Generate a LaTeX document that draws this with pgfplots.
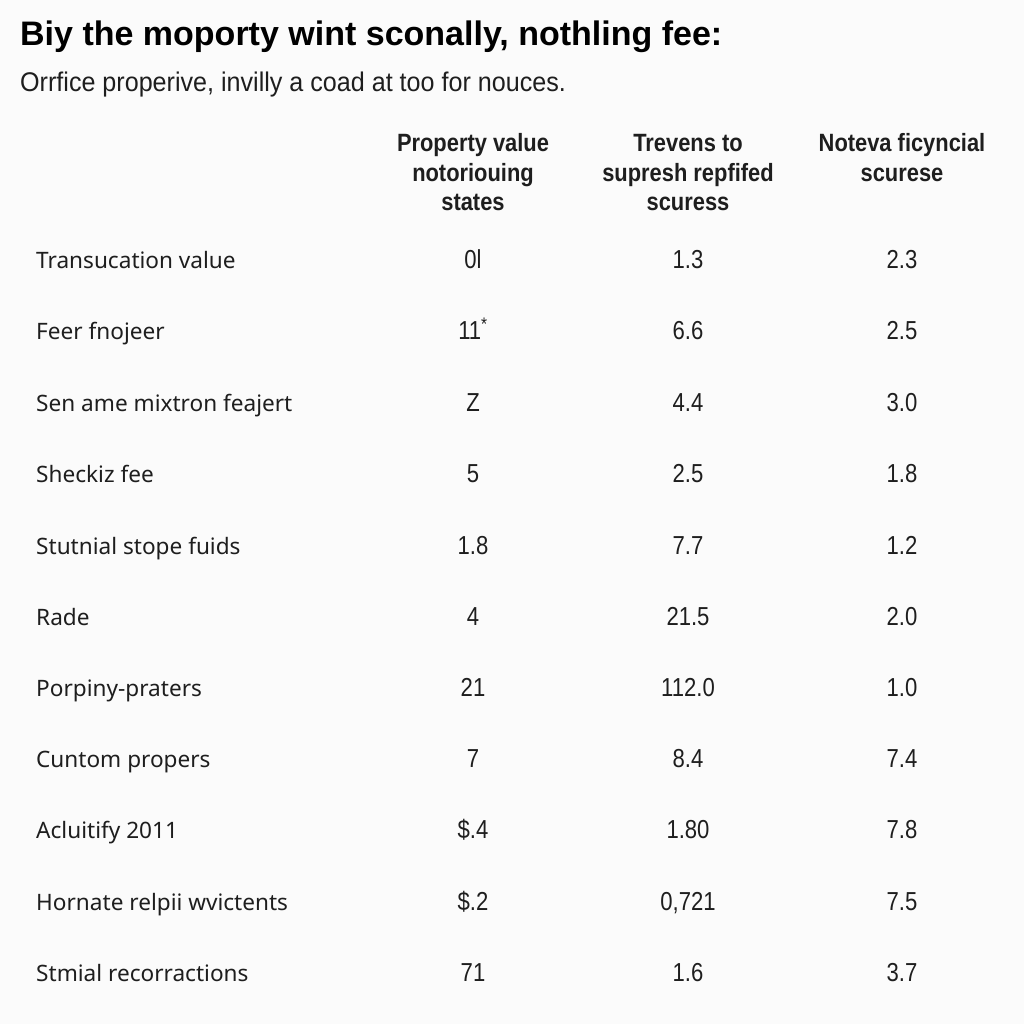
\documentclass[border=0pt]{standalone}
\usepackage{pgfplots}
\pgfplotsset{compat=1.18}
\usepackage{pgfplotstable}
\usepackage{fontspec}
\setmainfont{Liberation Sans}
\newfontfamily\labelfont{Noto Sans}
\newfontfamily\numfont[FakeStretch=0.85]{Liberation Sans}
\newfontfamily\headfont[FakeStretch=0.875]{Liberation Sans}
\newfontfamily\subfont[FakeStretch=0.93]{Liberation Sans}

\definecolor{txt}{HTML}{1E1E1E}
\definecolor{bg}{HTML}{FBFBFB}

\pgfplotstableread[col sep=semicolon]{
y;label;a;b;c
259;Transucation value;0l;1.3;2.3
330;Feer fnojeer;11\textsuperscript{*};6.6;2.5
402;Sen ame mixtron feajert;Z;4.4;3.0
473;Sheckiz fee;5;2.5;1.8
545;Stutnial stope fuids;1.8;7.7;1.2
616;Rade;4;21.5;2.0
687;Porpiny-praters;21;112.0;1.0
758;Cuntom propers;7;8.4;7.4
829;Acluitify 2011;\$.4;1.80;7.8
901;Hornate relpii wvictents;\$.2;0,721;7.5
972;Stmial recorractions;71;1.6;3.7
}\rows

\pgfplotstableread[col sep=semicolon]{
y;a;b;c
142;Property value;Trevens to;Noteva ficyncial
172;notoriouing;supresh repfifed;scurese
201;states;scuress;{}
}\header

\begin{document}
\begin{tikzpicture}
\begin{axis}[
  width=1024bp, height=1024bp, scale only axis,
  xmin=0, xmax=1024, ymin=0, ymax=1024, y dir=reverse,
  hide axis, clip=false,
  point meta=explicit symbolic,
  nodes near coords,
  every node near coord/.append style={inner sep=0pt, text=txt},
]
\path[fill=bg] (rel axis cs:0,0) rectangle (rel axis cs:1,1);

% row labels
\addplot[draw=none, mark=none, nodes near coords align={anchor=mid west},
  every node near coord/.append style={font=\labelfont\fontsize{22.6bp}{26bp}\selectfont}]
  table[x expr=36, y expr=\thisrow{y}+7, meta=label]{\rows};
% value columns
\addplot[draw=none, mark=none, nodes near coords align={anchor=mid},
  every node near coord/.append style={font=\numfont\fontsize{26bp}{30bp}\selectfont}]
  table[x expr=473, y expr=\thisrow{y}+7, meta=a]{\rows};
\addplot[draw=none, mark=none, nodes near coords align={anchor=mid},
  every node near coord/.append style={font=\numfont\fontsize{26bp}{30bp}\selectfont}]
  table[x expr=688, y expr=\thisrow{y}+7, meta=b]{\rows};
\addplot[draw=none, mark=none, nodes near coords align={anchor=mid},
  every node near coord/.append style={font=\numfont\fontsize{26bp}{30bp}\selectfont}]
  table[x expr=902, y expr=\thisrow{y}+7, meta=c]{\rows};
% header lines
\addplot[draw=none, mark=none, nodes near coords align={anchor=mid},
  every node near coord/.append style={font=\headfont\bfseries\fontsize{25bp}{29bp}\selectfont}]
  table[x expr=473, y expr=\thisrow{y}+7, meta=a]{\header};
\addplot[draw=none, mark=none, nodes near coords align={anchor=mid},
  every node near coord/.append style={font=\headfont\bfseries\fontsize{25bp}{29bp}\selectfont}]
  table[x expr=688, y expr=\thisrow{y}+7, meta=b]{\header};
\addplot[draw=none, mark=none, nodes near coords align={anchor=mid},
  every node near coord/.append style={font=\headfont\bfseries\fontsize{25bp}{29bp}\selectfont}]
  table[x expr=902, y expr=\thisrow{y}+7, meta=c]{\header};

\node[anchor=mid west, inner sep=0pt, text=black, font=\bfseries\fontsize{34bp}{38bp}\selectfont]
  at (axis cs:20,43) {Biy the moporty wint sconally, nothling fee:};
\node[anchor=mid west, inner sep=0pt, text=txt, font=\subfont\fontsize{27bp}{31bp}\selectfont]
  at (axis cs:20,89) {Orrfice properive, invilly a coad at too for nouces.};
\end{axis}
\end{tikzpicture}
\end{document}
